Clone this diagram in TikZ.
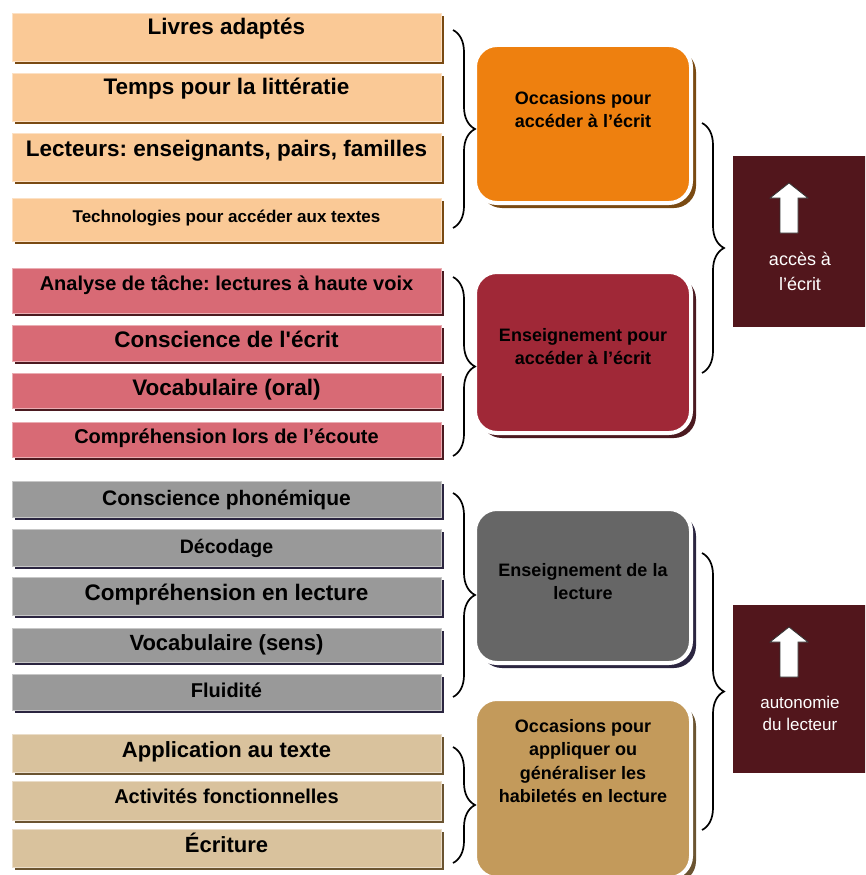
\documentclass[tikz,border=0pt]{standalone}
\usepackage{fontspec}
\setmainfont{Liberation Sans}
\frenchspacing
\usetikzlibrary{shadows,decorations.pathreplacing,calc}
\definecolor{oL}{HTML}{FAC996}
\definecolor{oS}{HTML}{7A4A12}
\definecolor{rL}{HTML}{D86A75}
\definecolor{rS}{HTML}{4B1A20}
\definecolor{gL}{HTML}{999999}
\definecolor{gS}{HTML}{2B2540}
\definecolor{tL}{HTML}{D9C29D}
\definecolor{tS}{HTML}{6B5431}
\definecolor{mO}{HTML}{EE800F}
\definecolor{mR}{HTML}{A02837}
\definecolor{mG}{HTML}{666666}
\definecolor{mT}{HTML}{C39A5B}
\definecolor{dk}{HTML}{52161C}
\tikzset{
  lbox/.style={rectangle, inner sep=0pt, outer sep=0pt, minimum width=429pt,
    fill=#1L, draw=#1L!55!white, line width=0.5pt,
    drop shadow={shadow xshift=3pt, shadow yshift=-3pt, fill=#1S, opacity=1}},
  mbox/.style 2 args={rectangle, rounded corners=22pt, inner sep=0pt, minimum width=216pt,
    fill=#1, draw=white, line width=4pt,
    drop shadow={shadow xshift=5pt, shadow yshift=-5pt, fill=#2, opacity=1}},
  mtext/.style={inner sep=0pt, align=center, text=black,
    font={\fontsize{18}{23.5}\selectfont\bfseries}},
  rbox/.style={rectangle, inner sep=0pt, minimum width=137pt, fill=dk},
  rtext/.style={inner sep=0pt, align=center, text=white},
  uparrow/.style={fill=white, draw=black!80, line width=0.8pt, line join=miter},
  brc/.style={decorate, decoration={brace, amplitude=22pt}, line width=1.7pt, draw=black}
}
\newcommand{\lbx}[7]{%
  \pgfmathsetmacro{\lbH}{#4-#3}%
  \pgfmathsetmacro{\lbC}{(#3+#4)/2}%
  \pgfmathsetmacro{\lbT}{#5-#3}%
  \pgfmathsetmacro{\lbD}{#4-#5}%
  \node[lbox=#1, minimum height=\lbH pt, text height=\lbT pt, text depth=\lbD pt,
    font={\fontsize{#6}{#6}\selectfont\bfseries}] (#2) at (226.5,\lbC) {#7};}
\begin{document}
\begin{tikzpicture}[x=1pt,y=-1pt]
\useasboundingbox (0,0) rectangle (865,875);
\clip (0,0) rectangle (865,875);
% left boxes
\lbx{o}{o1}{13}{61}{35}{22.5}{Livres adaptés}
\lbx{o}{o2}{73}{121}{94}{22.5}{Temps pour la littératie}
\lbx{o}{o3}{133}{181}{156}{22.5}{Lecteurs: enseignants, pairs, familles}
\lbx{o}{o4}{198}{241}{222}{17}{Technologies pour accéder aux textes}
\lbx{r}{r1}{268}{313}{290}{20}{Analyse de tâche: lectures à haute voix}
\lbx{r}{r2}{325}{361}{347}{22.5}{Conscience de l\textquotesingle écrit}
\lbx{r}{r3}{373}{408}{395}{22.5}{Vocabulaire (oral)}
\lbx{r}{r4}{422}{457}{443}{20}{Compréhension lors de l’écoute}
\lbx{g}{g1}{481}{517}{505}{21}{Conscience phonémique}
\lbx{g}{g2}{529}{566}{553}{19.5}{Décodage}
\lbx{g}{g3}{577}{615}{600}{22.5}{Compréhension en lecture}
\lbx{g}{g4}{628}{662}{650}{22}{Vocabulaire (sens)}
\lbx{g}{g5}{674}{710}{697}{20}{Fluidité}
\lbx{t}{t1}{734}{772}{757}{22}{Application au texte}
\lbx{t}{t2}{781}{820}{803}{20}{Activités fonctionnelles}
\lbx{t}{t3}{829}{867}{852}{22}{Écriture}
% middle boxes
\node[mbox={mO}{oS}, minimum height=158pt] (mo) at (583,124) {};
\node[mtext, anchor=north] (mot) at (583,91) {Occasions pour\\accéder à l’écrit};
\node[mbox={mR}{rS}, minimum height=161pt] (me) at (583,352.5) {};
\node[mtext, anchor=north] (met) at (583,328) {Enseignement pour\\accéder à l’écrit};
\node[mbox={mG}{gS}, minimum height=154pt] (mg) at (583,586) {};
\node[mtext, anchor=north] (mgt) at (583,563) {Enseignement de la\\lecture};
\node[mbox={mT}{tS}, minimum height=179pt] (mt) at (583,788.5) {};
\node[mtext, anchor=north] (mtt) at (583,719) {Occasions pour\\appliquer ou\\généraliser les\\habiletés en lecture};
% right boxes
\node[rbox, minimum height=171pt] (ra) at (801.5,241.5) {};
\draw[uparrow] (780,233) -- (780,198) -- (770,198) -- (789,183) -- (808,198) -- (798,198) -- (798,233) -- cycle;
\node[rtext, anchor=north, font={\fontsize{18}{25}\selectfont}] (rat) at (800,252) {accès à\\l’écrit};
\node[rbox, minimum height=168pt] (rb) at (801.5,689) {};
\draw[uparrow] (780,677) -- (780,642) -- (770,642) -- (789,627) -- (808,642) -- (798,642) -- (798,677) -- cycle;
\node[rtext, anchor=north, font={\fontsize{17}{22}\selectfont}] (rbt) at (800,696) {autonomie\\du lecteur};
% braces
\coordinate (b1a) at (453,30);  \coordinate (b1b) at (453,228);
\coordinate (b2a) at (453,277); \coordinate (b2b) at (453,456);
\coordinate (b3a) at (453,493); \coordinate (b3b) at (453,697);
\coordinate (b4a) at (453,747); \coordinate (b4b) at (453,863);
\coordinate (b5a) at (702,123); \coordinate (b5b) at (702,373);
\coordinate (b6a) at (702,553); \coordinate (b6b) at (702,830);
\draw[brc] (b1a) -- (b1b);
\draw[brc] (b2a) -- (b2b);
\draw[brc] (b3a) -- (b3b);
\draw[brc] (b4a) -- (b4b);
\draw[brc] (b5a) -- (b5b);
\draw[brc] (b6a) -- (b6b);
\end{tikzpicture}
\end{document}
